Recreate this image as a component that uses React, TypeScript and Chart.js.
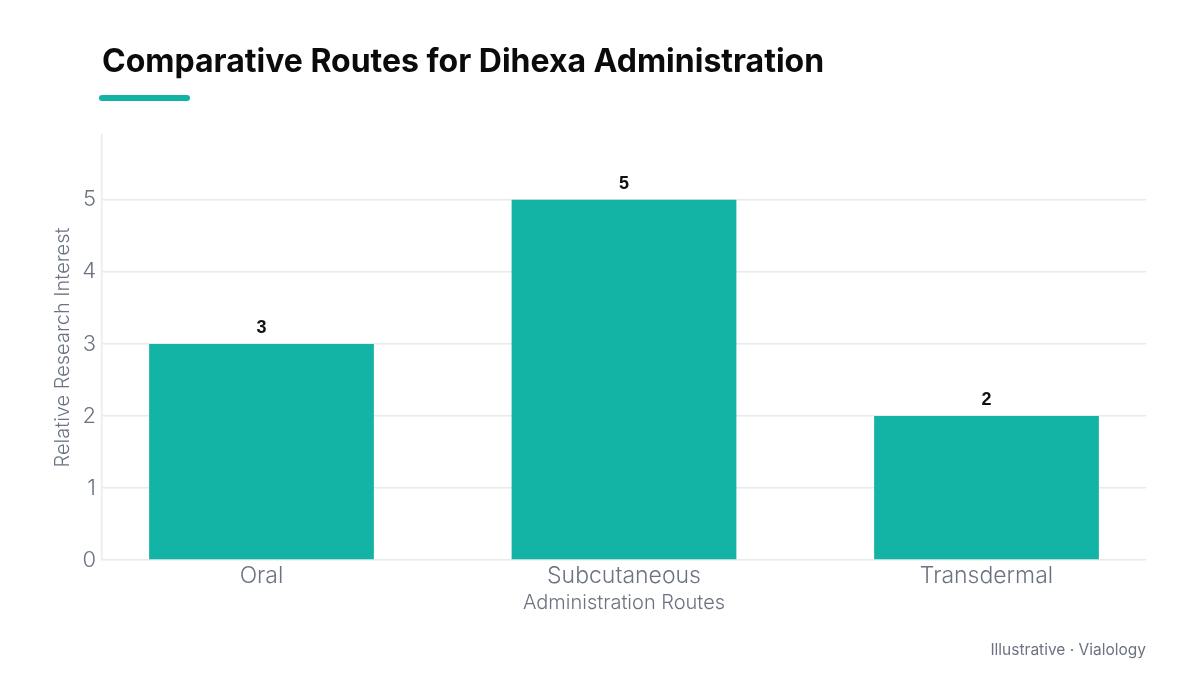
import React, { useEffect, useRef } from 'react';
import { Chart, registerables } from 'chart.js';

Chart.register(...registerables);

const categories = ['Oral', 'Subcutaneous', 'Transdermal'];
const interest = [3, 5, 2];
const yTicks = [0, 1, 2, 3, 4, 5];

const TEAL = '#13b3a5';
const GRAY = '#6b7280';
const GRID = '#e7ebeb';

const valueLabels = {
  id: 'valueLabels',
  afterDatasetsDraw(chart: Chart) {
    const ctx = chart.ctx;
    const meta = chart.getDatasetMeta(0);
    ctx.save();
    ctx.font = 'bold 18px "Liberation Sans", Arial, sans-serif';
    ctx.fillStyle = '#111111';
    ctx.textAlign = 'center';
    ctx.textBaseline = 'middle';
    meta.data.forEach((bar: any, i: number) => {
      ctx.fillText(String(interest[i]), bar.x, bar.y - 16);
    });
    ctx.restore();
  },
};

export default function App() {
  const canvasRef = useRef<HTMLCanvasElement>(null);

  useEffect(() => {
    if (!canvasRef.current) return;
    const chart = new Chart(canvasRef.current, {
      type: 'bar',
      data: {
        datasets: [{
          data: interest.map((v, i) => ({ x: i, y: v })),
          backgroundColor: TEAL,
          borderWidth: 0,
          barPercentage: 0.62,
          categoryPercentage: 1,
        }],
      },
      options: {
        animation: false,
        responsive: false,
        maintainAspectRatio: false,
        layout: { padding: { top: 135, right: 54, bottom: 0, left: 0 } },
        plugins: { legend: { display: false }, tooltip: { enabled: false } },
        scales: {
          x: {
            type: 'linear',
            offset: false,
            min: -0.44,
            max: 2.44,
            afterBuildTicks: (scale: any) => { scale.ticks = categories.map((_, i) => ({ value: i })); },
            afterFit: (scale: any) => { scale.height = 115; },
            grid: { display: false, drawTicks: false },
            border: { display: false },
            ticks: {
              padding: 2,
              color: GRAY,
              font: { family: 'Inter', size: 23, weight: 300 },
              callback: (v: any) => categories[v] ?? '',
            },
            title: {
              display: true,
              text: 'Administration Routes',
              color: GRAY,
              font: { family: 'Inter', size: 20, weight: 300 },
              padding: { top: 0, bottom: 60 },
            },
          },
          y: {
            min: 0,
            max: 5.9,
            afterBuildTicks: (scale: any) => { scale.ticks = yTicks.map((v) => ({ value: v })); },
            afterFit: (scale: any) => { scale.width = 102; },
            grid: { color: GRID, lineWidth: 1.5, drawTicks: false },
            border: { display: true, color: GRID, width: 1.5 },
            ticks: {
              padding: 6,
              color: GRAY,
              font: { family: 'Inter', size: 22, weight: 300 },
            },
            title: {
              display: true,
              text: 'Relative Research Interest',
              color: GRAY,
              font: { family: 'Inter', size: 20, weight: 300 },
              padding: { top: 51, bottom: 0 },
            },
          },
        },
      },
      plugins: [valueLabels],
    } as any);
    return () => chart.destroy();
  }, []);

  return (
    <div style={{ position: 'absolute', left: 0, top: 0, width: 1200, height: 675, background: '#fff', fontFamily: 'Inter, sans-serif' }}>
      <canvas ref={canvasRef} width={1200} height={675} style={{ position: 'absolute', left: 0, top: 0, width: 1200, height: 675 }} />
      <div style={{ position: 'absolute', left: 102, top: 41, fontSize: 32, fontWeight: 700, color: '#0b0b0b', whiteSpace: 'nowrap' }}>
        Comparative Routes for Dihexa Administration
      </div>
      <div style={{ position: 'absolute', left: 99, top: 95, width: 91, height: 6, borderRadius: 3, background: TEAL }} />
      <div style={{ position: 'absolute', right: 54, top: 640, fontSize: 15.5, fontWeight: 400, color: GRAY, whiteSpace: 'nowrap' }}>
        Illustrative · Vialology
      </div>
    </div>
  );
}
